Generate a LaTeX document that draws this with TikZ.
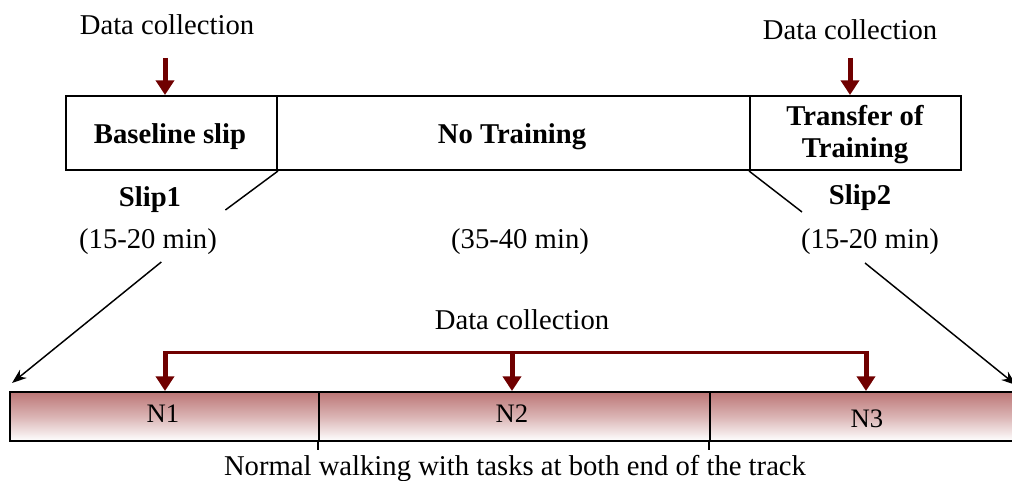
\documentclass[tikz,border=0pt]{standalone}
\usepackage{fontspec}
\setmainfont{Liberation Serif}
\usetikzlibrary{arrows.meta}
\definecolor{dred}{RGB}{112,0,0}
\definecolor{barpink}{RGB}{188,118,118}
\begin{document}
\begin{tikzpicture}[x=0.75pt,y=-0.75pt,
  font=\fontsize{21.5}{23}\selectfont,
  box/.style={draw, line width=1.5pt, inner sep=0pt, minimum height=55.5pt, anchor=north west},
  seg/.style={draw, line width=1.5pt, inner sep=0pt, minimum height=36.75pt, anchor=north west,
              top color=barpink, bottom color=white, middle color=barpink!55},
  lbl/.style={anchor=base, inner sep=0pt},
  blbl/.style={anchor=base, inner sep=0pt, font=\fontsize{21.5}{23}\selectfont\bfseries},
  nlbl/.style={anchor=base, inner sep=0pt, font=\fontsize{20}{22}\selectfont},
  redarrow/.style={dred, line width=3.75pt, -{Triangle[width=13.5pt,length=11pt]}},
  redline/.style={dred, line width=2.25pt},
  zoomline/.style={line width=1.1pt},
  zoomarrow/.style={line width=1.1pt, -{Stealth[length=11pt,width=8pt]}}]
\clip (0,0) rectangle (1012,481);
\fill[white] (0,0) rectangle (1012,481);

% top boxes
\node[box, minimum width=158.25pt] (b1) at (65,95) {};
\node[box, minimum width=354.75pt] (b2) at (276,95) {};
\node[box, minimum width=158.25pt] (b3) at (749,95) {};
\node[blbl] (b1t) at (170,143) {Baseline slip};
\node[blbl] (b2t) at (512,143) {No Training};
\node[blbl] (b3t) at (855,126) {Transfer of};
\node[blbl] (b3u) at (855,157) {Training};

% top data collection
\node[lbl] (dc1) at (167,35) {Data collection};
\node[lbl] (dc2) at (850,40) {Data collection};
\coordinate (a1s) at (165,58);
\coordinate (a1e) at (165,95);
\coordinate (a2s) at (850,58);
\coordinate (a2e) at (850,95);
\draw[redarrow] (a1s) -- (a1e);
\draw[redarrow] (a2s) -- (a2e);

% labels under boxes
\node[blbl] (s1) at (150,206) {Slip1};
\node[blbl] (s2) at (860,204) {Slip2};
\node[lbl] (t1) at (148,248) {(15-20 min)};
\node[lbl] (t2) at (520,248) {(35-40 min)};
\node[lbl] (t3) at (870,248) {(15-20 min)};

% zoom lines
\coordinate (l1) at (225.4,210);
\coordinate (l2) at (161.3,262);
\coordinate (l3) at (12,383);
\draw[zoomline] (b1.south east) -- (l1);
\draw[zoomarrow] (l2) -- (l3);
\coordinate (r1) at (802,212);
\coordinate (r2) at (865,263);
\coordinate (r3) at (1016,385);
\draw[zoomline] (b3.south west) -- (r1);
\draw[zoomarrow] (r2) -- (r3);

% bottom bar
\node[seg, minimum width=231.75pt] (n1) at (9,391) {};
\node[seg, minimum width=293.25pt] (n2) at (318,391) {};
\node[seg, minimum width=240.75pt] (n3) at (709,391) {};
\node[nlbl] (n1t) at (163,422) {N1};
\node[nlbl] (n2t) at (512,422) {N2};
\node[nlbl] (n3t) at (867,427) {N3};
\coordinate (d1) at (318,450);
\coordinate (d2) at (709,450);
\draw[line width=1pt] (n2.south west) -- (d1);
\draw[line width=1pt] (n3.south west) -- (d2);

% bottom data collection
\node[lbl] (dc3) at (522,329) {Data collection};
\coordinate (h1) at (165,352);
\coordinate (h2) at (512,352);
\coordinate (h3) at (866,352);
\draw[redline] (h1) -- (h3);
\draw[redarrow] ([yshift=0.85pt]h1) -- (n1.north -| h1);
\draw[redarrow] (h2) -- (n2.north -| h2);
\draw[redarrow] ([yshift=0.85pt]h3) -- (n3.north -| h3);

\node[lbl] (bt) at (515,475) {Normal walking with tasks at both end of the track};
\end{tikzpicture}
\end{document}
